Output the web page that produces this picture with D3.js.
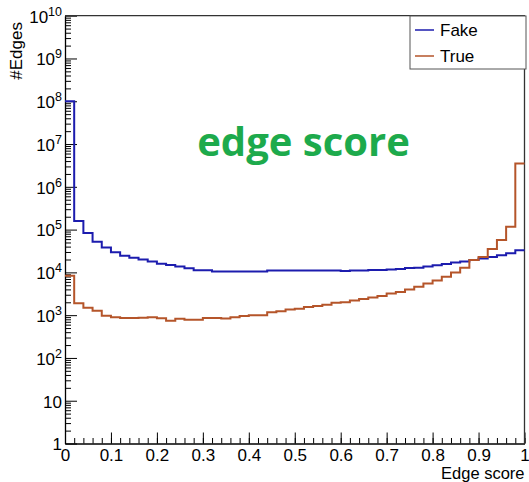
<!DOCTYPE html>
<html>
<head>
<meta charset="utf-8">
<script src="https://cdn.jsdelivr.net/npm/d3@7"></script>
<style>
  body { margin: 0; background: #fff; }
  svg { display: block; font-family: "Liberation Sans", Arial, sans-serif; }
</style>
</head>
<body>
<div id="chart"></div>
<script>
// bin contents, 50 bins over [0, 1]
var nBins = 50;
var fakeCounts = [1e8, 1.59e5, 8.3e4, 5.2e4, 3.8e4, 2.95e4, 2.45e4, 2.2e4, 2.0e4, 1.8e4,
  1.6e4, 1.48e4, 1.38e4, 1.25e4, 1.12e4, 1.12e4, 1.05e4, 1.05e4, 1.05e4, 1.05e4,
  1.05e4, 1.05e4, 1.1e4, 1.1e4, 1.1e4, 1.1e4, 1.1e4, 1.1e4, 1.1e4, 1.1e4,
  1.07e4, 1.1e4, 1.1e4, 1.14e4, 1.14e4, 1.16e4, 1.2e4, 1.26e4, 1.29e4, 1.38e4,
  1.47e4, 1.57e4, 1.7e4, 1.8e4, 1.95e4, 2.1e4, 2.3e4, 2.5e4, 2.8e4, 3.3e4];
var trueCounts = [8.3e3, 1.9e3, 1.5e3, 1.26e3, 970, 890, 860, 860, 870, 890,
  850, 740, 820, 780, 780, 860, 860, 830, 890, 960,
  1000, 1000, 1170, 1230, 1350, 1420, 1550, 1630, 1750, 1960,
  2000, 2200, 2400, 2600, 2800, 3200, 3500, 4000, 4600, 5500,
  6500, 7900, 1.0e4, 1.29e4, 1.95e4, 2.3e4, 3.5e4, 5.7e4, 1.17e5, 3.5e6];
var seriesNames = ["Fake", "True"];
var xTicks = [0, 0.1, 0.2, 0.3, 0.4, 0.5, 0.6, 0.7, 0.8, 0.9, 1];
var yExponents = [0, 1, 2, 3, 4, 5, 6, 7, 8, 9, 10];

var svgWidth = 529, svgHeight = 482;
var plot = { left: 65, right: 524.5, top: 15.7, bottom: 443.5 };
var colors = { Fake: "#1c1cae", True: "#b5552a" };

var svg = d3.select("#chart").append("svg")
  .attr("width", svgWidth)
  .attr("height", svgHeight);

var x = d3.scaleLinear().domain([0, 1]).range([plot.left, plot.right]);
var y = d3.scaleLog().domain([1, 1e10]).range([plot.bottom, plot.top]);

// minor ticks
var xMinor = d3.range(0, nBins + 1).map(i => i / nBins);
var yMinor = [];
for (var k = 0; k < 10; k++) {
  for (var m = 2; m <= 9; m++) yMinor.push(m * Math.pow(10, k));
}

svg.append("g")
  .attr("transform", `translate(0,${plot.bottom})`)
  .call(d3.axisBottom(x).tickValues(xMinor).tickSize(-5.5).tickSizeOuter(0).tickFormat(""))
  .call(g => g.select(".domain").remove());

svg.append("g")
  .attr("transform", `translate(0,${plot.bottom})`)
  .style("font-size", "17px")
  .call(d3.axisBottom(x).tickValues(xTicks).tickSize(-11).tickSizeOuter(0).tickPadding(5)
    .tickFormat(d => d3.format("~g")(d)))
  .call(g => g.selectAll("text").attr("fill", "#000").style("font-family", "Liberation Sans, Arial, sans-serif"))
  .call(g => g.select(".domain").attr("stroke", "#000").attr("stroke-width", 1.3));

svg.append("g")
  .attr("transform", `translate(${plot.left},0)`)
  .call(d3.axisLeft(y).tickValues(yMinor).tickSize(-6).tickSizeOuter(0).tickFormat(""))
  .call(g => g.select(".domain").remove());

svg.append("g")
  .attr("transform", `translate(${plot.left},0)`)
  .call(d3.axisLeft(y).tickValues(yExponents.map(e => Math.pow(10, e))).tickSize(-12).tickSizeOuter(0).tickFormat(""))
  .call(g => g.select(".domain").attr("stroke", "#000").attr("stroke-width", 1.3));

// y labels with superscript exponents
var yLab = svg.append("g").attr("font-size", 17).attr("fill", "#000");
yExponents.forEach(e => {
  var t = yLab.append("text")
    .attr("x", plot.left - 3)
    .attr("y", y(Math.pow(10, e)))
    .attr("dy", "0.4em")
    .attr("text-anchor", "end");
  if (e === 0) t.text("1");
  else if (e === 1) t.text("10");
  else {
    t.append("tspan").text("10");
    t.append("tspan").attr("dy", -7).attr("font-size", 12.5).text(e);
  }
});

// frame top / right
svg.append("path")
  .attr("d", `M${plot.left},${plot.top}H${plot.right}V${plot.bottom}`)
  .attr("fill", "none")
  .attr("stroke", "#333")
  .attr("stroke-width", 1.3);

// histograms
function stepPoints(counts) {
  var pts = counts.map((c, i) => [i / nBins, c]);
  pts.push([1, counts[counts.length - 1]]);
  return pts;
}
var line = d3.line()
  .x(d => x(d[0]))
  .y(d => y(d[1]))
  .curve(d3.curveStepAfter);

[["Fake", fakeCounts], ["True", trueCounts]].forEach(s => {
  svg.append("path")
    .datum(stepPoints(s[1]))
    .attr("fill", "none")
    .attr("stroke", colors[s[0]])
    .attr("stroke-width", 2)
    .attr("d", line);
});

// legend
var leg = svg.append("g");
leg.append("rect")
  .attr("x", 410).attr("y", 16).attr("width", 116).attr("height", 53)
  .attr("fill", "#fff").attr("stroke", "#555").attr("stroke-width", 1);
seriesNames.forEach((n, i) => {
  var yy = 30 + i * 26;
  leg.append("line")
    .attr("x1", 415).attr("x2", 434).attr("y1", yy).attr("y2", yy)
    .attr("stroke", colors[n]).attr("stroke-width", 1.5);
  leg.append("text")
    .attr("x", 440).attr("y", yy).attr("dy", "0.36em")
    .attr("font-size", 17).text(n);
});

// axis titles
svg.append("text")
  .attr("x", plot.right).attr("y", 478.5)
  .attr("text-anchor", "end")
  .attr("font-size", 16.5)
  .text("Edge score");

svg.append("text")
  .attr("transform", "translate(22,22) rotate(-90)")
  .attr("text-anchor", "end")
  .attr("font-size", 17)
  .text("#Edges");

// annotation
svg.append("text")
  .attr("x", 303.5).attr("y", 156)
  .attr("text-anchor", "middle")
  .attr("font-family", "Open Sans, sans-serif")
  .attr("font-weight", "bold")
  .attr("font-size", 40)
  .attr("fill", "#1daa4c")
  .text("edge score");
</script>
</body>
</html>
